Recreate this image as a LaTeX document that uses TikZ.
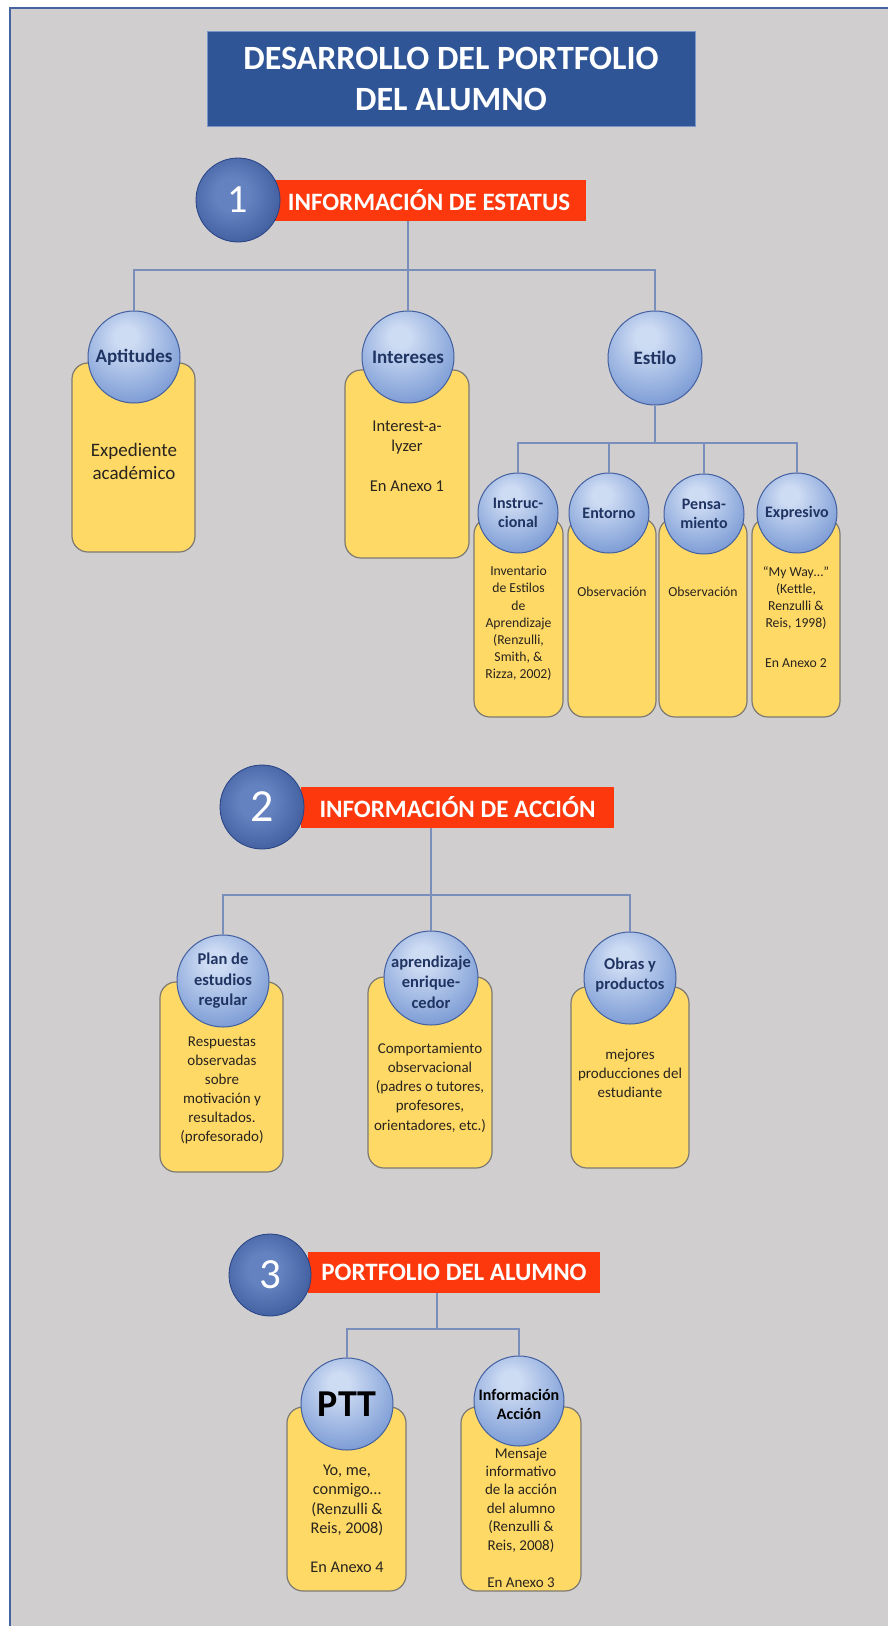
\documentclass[tikz,border=0pt]{standalone}
\usepackage{fontspec}
\setmainfont{Carlito}

\definecolor{bgray}{RGB}{209,206,208}
\definecolor{frameblue}{RGB}{70,100,160}
\definecolor{titleblue}{RGB}{47,85,151}
\definecolor{titleedge}{RGB}{120,150,200}
\definecolor{barred}{RGB}{252,56,12}
\definecolor{cardyellow}{RGB}{255,217,102}
\definecolor{cardline}{RGB}{125,122,115}
\definecolor{orbline}{RGB}{66,96,160}
\definecolor{orbhi}{RGB}{205,219,243}
\definecolor{orbmid}{RGB}{132,162,216}
\definecolor{orblo}{RGB}{72,106,178}
\definecolor{numhi}{RGB}{100,130,192}
\definecolor{numlo}{RGB}{38,66,132}
\definecolor{navy}{RGB}{31,52,98}
\definecolor{inktxt}{RGB}{40,36,30}
\definecolor{linkblue}{RGB}{122,142,188}

\pgfdeclareradialshading{orb}{\pgfpoint{-5bp}{12bp}}{color(0bp)=(orbhi); color(6bp)=(orbhi); color(30bp)=(orbmid); color(50bp)=(orblo); color(75bp)=(orblo)}
\pgfdeclareradialshading{numorb}{\pgfpoint{-4bp}{4bp}}{color(0bp)=(numhi); color(10bp)=(numhi); color(44bp)=(numlo); color(75bp)=(numlo)}

\newcommand{\setfs}[2]{\fontsize{#1}{#2}\selectfont}

\begin{document}
\begin{tikzpicture}[x=1pt,y=-1pt,
  titlebox/.style={fill=titleblue,draw=titleedge,line width=1pt,minimum width=488pt,minimum height=95pt,text=white,align=center,font=\bfseries\setfs{34}{41}},
  redbar/.style={fill=barred,minimum height=41pt,inner sep=0pt,text=white,font=\bfseries\setfs{25}{27}},
  numball/.style={circle,draw=numlo,line width=0.8pt,shading=numorb,minimum size=84pt,inner sep=0pt,text=white,font=\setfs{40}{40}},
  ball/.style={circle,draw=orbline,line width=1pt,shading=orb,minimum size=92pt,inner sep=0pt},
  ballL/.style={align=center,text=navy,inner sep=0pt,font=\bfseries\setfs{19}{21}},
  card/.style={rounded corners=16pt,fill=cardyellow,draw=cardline,line width=1.2pt},
  cardtxt/.style={align=center,text=inktxt,inner sep=0pt},
  link/.style={draw=linkblue,line width=1.2pt}]
\useasboundingbox (0,0) rectangle (888,1626);
\fill[white] (0,0) rectangle (888,1626);
\fill[bgray] (10,8) rectangle (888,1626);
\draw[frameblue,line width=2.5pt] (10,1626) -- (10,8) -- (888,8);

\node[titlebox] (title) at (451,79) {DESARROLLO DEL PORTFOLIO\\DEL ALUMNO};

\node[redbar,minimum width=314pt] (bar1) at (429,200) {INFORMACIÓN DE ESTATUS};
\node[numball] (n1) at (238,200) {1};

\node[card,minimum width=123pt,minimum height=189pt] (aptB) at (133.5,457.5) {};
\node[card,minimum width=124pt,minimum height=188pt] (intB) at (407,464) {};
\node[cardtxt,font=\setfs{19}{23}] (aptT) at (134,461.5) {Expediente\\académico};
\node[cardtxt,font=\setfs{16.5}{20}] (intT) at (407,456) {Interest-a-\\lyzer\\[20pt]En Anexo 1};
\node[ball,label={[ballL]center:Aptitudes}] (apt) at (134,357) {};
\node[ball,label={[ballL]center:Intereses}] (int) at (408,357) {};
\node[ball,minimum size=94pt,label={[ballL]center:Estilo}] (est) at (655,358) {};

\node[card,minimum width=89pt,minimum height=199pt] (insB) at (518.5,617.5) {};
\node[card,minimum width=88pt,minimum height=199pt] (entB) at (612,617.5) {};
\node[card,minimum width=88pt,minimum height=199pt] (penB) at (703,617.5) {};
\node[card,minimum width=88pt,minimum height=199pt] (expB) at (796,617.5) {};
\node[cardtxt,font=\setfs{13.7}{17.2}] (insT) at (518.5,623.5) {Inventario\\de Estilos\\de\\Aprendizaje\\(Renzulli,\\Smith, \&\\Rizza, 2002)};
\node[cardtxt,font=\setfs{13.7}{17}] (entT) at (612,592) {Observación};
\node[cardtxt,font=\setfs{13.7}{17}] (penT) at (703,592) {Observación};
\node[cardtxt,font=\setfs{13.7}{17}] (expT) at (796,617.5) {“My Way…”\\(Kettle,\\Renzulli \&\\Reis, 1998)\\[23pt]En Anexo 2};
\node[ball,minimum size=80pt,label={[ballL,font=\bfseries\setfs{16}{19}]center:{Instruc-\\cional}}] (ins) at (518,513) {};
\node[ball,minimum size=80pt,label={[ballL,font=\bfseries\setfs{16}{19}]center:Entorno}] (ent) at (609,513) {};
\node[ball,minimum size=80pt,label={[ballL,font=\bfseries\setfs{16}{19}]center:{Pensa-\\miento}}] (pen) at (704,514) {};
\node[ball,minimum size=80pt,label={[ballL,font=\bfseries\setfs{16}{19}]center:Expresivo}] (exp) at (797,513) {};

\coordinate (h1) at (408,270); \coordinate (h1b) at (655,443);
\draw[link] (bar1.south -| int) -- (int.north);
\draw[link] (apt.north) |- (h1) -| (est.north);
\draw[link] (est.south) -- (est.south |- h1b);
\draw[link] (ins.north) |- (h1b) -| (exp.north);
\draw[link] (ent.north) -- (ent.north |- h1b);\draw[link] (pen.north) -- (pen.north |- h1b);

\node[redbar,minimum width=313pt] (bar2) at (457.5,807) {INFORMACIÓN DE ACCIÓN};
\node[numball,font=\setfs{46}{46}] (n2) at (262,807) {2};

\node[card,minimum width=123pt,minimum height=190pt] (planB) at (221.5,1077) {};
\node[card,minimum width=124pt,minimum height=191pt] (aprB) at (430,1072.5) {};
\node[card,minimum width=118pt,minimum height=181pt] (obrB) at (630,1077.5) {};
\node[cardtxt,font=\setfs{15}{19}] (planT) at (222,1090.5) {Respuestas\\observadas\\sobre\\motivación y\\resultados.\\(profesorado)};
\node[cardtxt,font=\setfs{15}{19.2}] (aprT) at (430,1087.5) {Comportamiento\\observacional\\(padres o tutores,\\profesores,\\orientadores, etc.)};
\node[cardtxt,font=\setfs{15}{19}] (obrT) at (630,1073) {mejores\\producciones del\\estudiante};
\node[ball,label={[ballL,font=\bfseries\setfs{16.5}{20.5}]center:{Plan de\\estudios\\regular}}] (plan) at (223,981) {};
\node[ball,minimum size=94pt,label={[ballL,font=\bfseries\setfs{16.5}{20.5},yshift=-4pt]center:{aprendizaje\\enrique-\\cedor}}] (apr) at (431,978) {};
\node[ball,label={[ballL,font=\bfseries\setfs{16.5}{20.5},yshift=3pt]center:{Obras y\\productos}}] (obr) at (630,978) {};

\coordinate (h2) at (431,895);
\draw[link] (bar2.south -| apr) -- (apr.north);
\draw[link] (plan.north) |- (h2) -| (obr.north);

\node[redbar,minimum width=292pt] (bar3) at (454,1272) {PORTFOLIO DEL ALUMNO};
\node[numball,minimum size=82pt,font=\setfs{43}{43}] (n3) at (270,1275) {3};

\node[card,minimum width=119pt,minimum height=184pt] (pttB) at (346.5,1499) {};
\node[card,minimum width=120pt,minimum height=184pt] (infB) at (521,1499) {};
\node[cardtxt,font=\setfs{16.3}{19.5}] (pttT) at (347,1519) {Yo, me,\\conmigo…\\(Renzulli \&\\Reis, 2008)\\[19.5pt]En Anexo 4};
\node[cardtxt,font=\setfs{15}{18.4}] (infT) at (521,1517.5) {Mensaje\\informativo\\de la acción\\del alumno\\(Renzulli \&\\Reis, 2008)\\[18.6pt]En Anexo 3};
\node[ball,label={[ballL,text=black,font=\bfseries\setfs{38}{38}]center:PTT}] (ptt) at (347,1404) {};
\node[ball,minimum size=90pt,label={[ballL,text=black,font=\bfseries\setfs{16}{19},yshift=-3pt]center:{Información\\Acción}}] (inf) at (519,1401) {};

\coordinate (h3) at (437,1329);
\draw[link] (bar3.south -| h3) -- (h3);
\draw[link] (ptt.north) |- (h3) -| (inf.north);
\end{tikzpicture}
\end{document}
